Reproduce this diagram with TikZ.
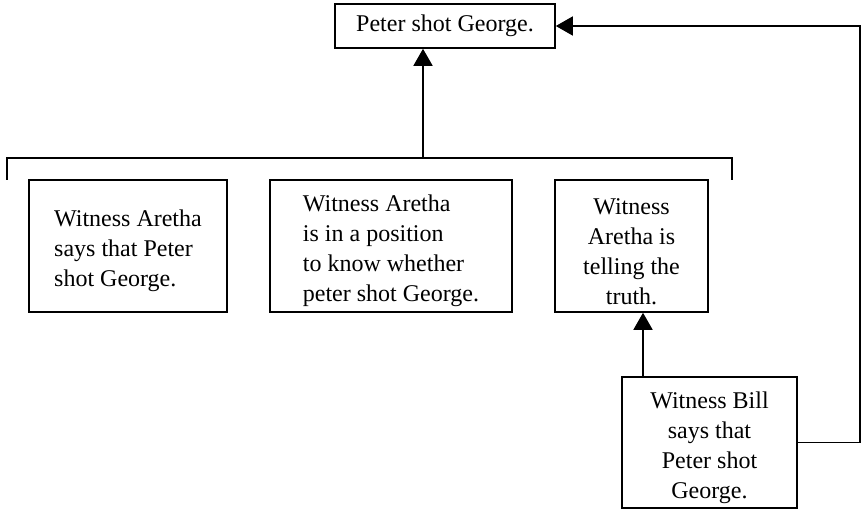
\documentclass[tikz,border=0pt]{standalone}
\usepackage{fontspec}
\setmainfont{Liberation Serif}
\usetikzlibrary{arrows.meta}
% extra headroom on a first line, so the text block sits a little lower
\newcommand{\topgap}{\rule{0pt}{27pt}}
\begin{document}
\begin{tikzpicture}[x=1pt,y=-1pt,
  claim/.style={draw, line width=1.6pt, inner sep=0pt,
    font=\fontsize{24}{30}\selectfont},
  link/.style={line width=1.6pt},
  arr/.style={link, -{Triangle[width=19pt,length=17pt]}}]
\useasboundingbox (0,0) rectangle (862,510);

% conclusion
\node[claim, minimum width=220pt, minimum height=44pt] (top) at (445,26) {Peter shot George.};

% the three premises joined under one bracket
\node[claim, align=left, minimum width=198pt, minimum height=132pt] (b1) at (128,246)
  {\topgap Witness Aretha\\says that Peter\\shot George.};
\node[claim, align=left, minimum width=242pt, minimum height=132pt] (b2) at (391,246)
  {\topgap Witness Aretha\\is in a position\\to know whether\\peter shot George.};
\node[claim, align=center, minimum width=153pt, minimum height=132pt] (b3) at (631.5,246)
  {\topgap Witness\\Aretha is\\telling the\\truth.};

% supporting testimony
\node[claim, align=center, minimum width=175pt, minimum height=131pt] (b4) at (709.5,442.5)
  {\topgap Witness Bill\\says that\\Peter shot\\George.};

% bracket
\coordinate (bl) at (7,180);
\coordinate (br) at (732,180);
\coordinate (jn) at (423,158);
\draw[link] (bl) -- (bl |- jn) -- (br |- jn) -- (br);
\draw[arr] (jn) -- (jn |- top.south);

% Bill supports Aretha's truthfulness
\coordinate (b4up) at (643,377);
\draw[arr] (b4up) -- (b4up |- b3.south);

% Bill also supports the conclusion directly
\coordinate (cr) at (860,26);
\draw[arr] (b4.east) -| (cr) -- (top.east);
\end{tikzpicture}
\end{document}
